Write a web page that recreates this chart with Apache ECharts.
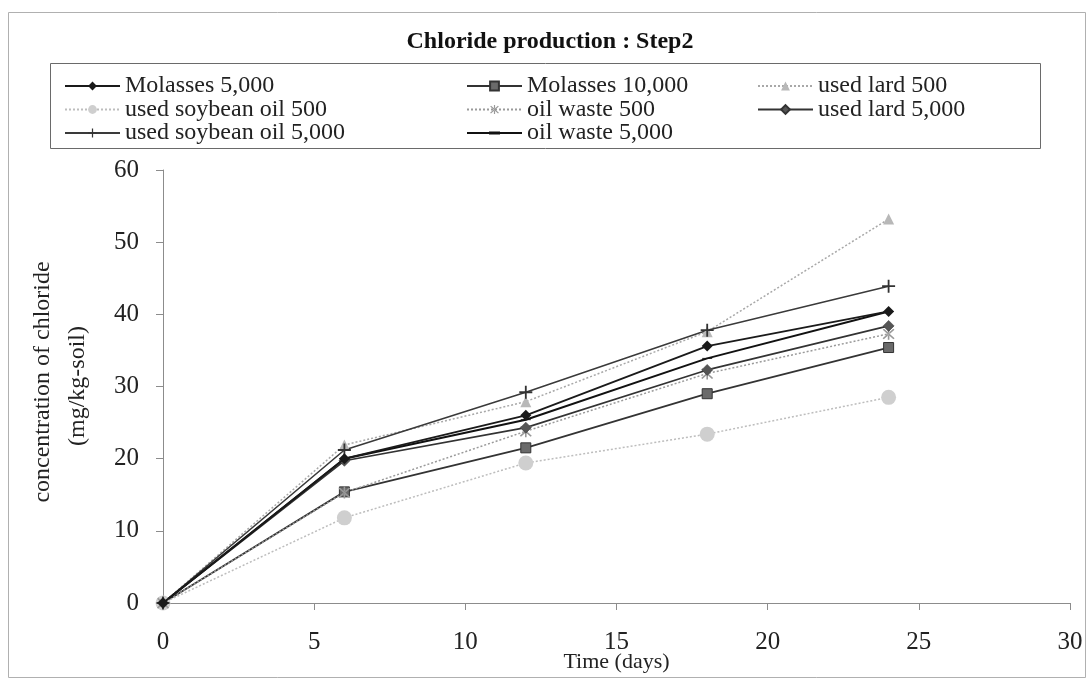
<!DOCTYPE html>
<html>
<head>
<meta charset="utf-8">
<script src="https://cdn.jsdelivr.net/npm/echarts@6/dist/echarts.min.js"></script>
<style>
  html, body { margin: 0; padding: 0; background: #fff; }
  #chart { width: 1092px; height: 681px; }
</style>
</head>
<body>
<div id="chart"></div>
<script>
// Sampling days
const days = [0, 6, 12, 18, 24];

// Chloride concentration (mg/kg-soil) per treatment
const molasses5000      = [0, 20.0, 26.0, 35.6, 40.4];
const molasses10000     = [0, 15.4, 21.5, 29.0, 35.4];
const usedLard500       = [0, 21.9, 27.9, 37.6, 53.2];
const usedSoybean500    = [0, 11.8, 19.4, 23.4, 28.5];
const oilWaste500       = [0, 15.3, 23.8, 31.8, 37.3];
const usedLard5000      = [0, 19.7, 24.3, 32.3, 38.4];
const usedSoybean5000   = [0, 21.2, 29.2, 37.8, 43.9];
const oilWaste5000      = [0, 20.0, 25.4, 33.9, 40.4];

const xTicks = [0, 5, 10, 15, 20, 25, 30];
const yTicks = [0, 10, 20, 30, 40, 50, 60];

const FONT = '"Liberation Serif", "DejaVu Serif", serif';

const PLUS = 'path://M4.3,0h1.4v10h-1.4zM0,4.3h10v1.4h-10z';
const ASTER = 'path://M4.4,0h1.2v10h-1.2zM0.6,1.6l0.9,-0.9l8,8l-0.9,0.9zM9.4,1.6l-0.9,-0.9l-8,8l0.9,0.9z';
const DASH = 'path://M0,0h10v3h-10z';
// legend icon: solid line with a short thick dash in the middle (tiny corner dots fix the box)
const DASH_ICON = 'path://M0,0h0.1v0.1h-0.1zM54.9,10.9h0.1v0.1h-0.1zM0,4.6h55v1.8h-55zM22,3.9h11v3.2h-11z';

function pts(vals) { return days.map((d, i) => [d, vals[i]]); }

function mk(name, vals, o) {
  return {
    name: name,
    type: 'line',
    data: pts(vals),
    symbol: o.symbol,
    symbolSize: o.size,
    symbolKeepAspect: !!o.keep,
    showSymbol: true,
    z: o.z || 2,
    lineStyle: { color: o.line, width: o.width, type: o.type || 'solid' },
    itemStyle: { color: o.fill, borderColor: o.border || o.fill, borderWidth: o.bw || 0 },
    emphasis: { disabled: true },
    animation: false
  };
}

const series = [
  mk('Molasses 5,000', molasses5000, { symbol: 'diamond', size: 11, line: '#1a1a1a', width: 1.8, fill: '#1a1a1a', z: 5 }),
  mk('Molasses 10,000', molasses10000, { symbol: 'rect', size: 10, line: '#333', width: 1.8, fill: '#6a6a6a', border: '#333', bw: 1 }),
  mk('used lard 500', usedLard500, { symbol: 'triangle', size: 11, line: '#a8a8a8', width: 1.5, type: [2, 2], fill: '#b8b8b8' }),
  mk('used soybean oil 500', usedSoybean500, { symbol: 'circle', size: 15, line: '#bdbdbd', width: 1.5, type: [2, 2], fill: '#cfcfcf' }),
  mk('oil waste 500', oilWaste500, { symbol: ASTER, size: 12, line: '#9a9a9a', width: 1.5, type: [2, 2], fill: '#999' }),
  mk('used lard 5,000', usedLard5000, { symbol: 'diamond', size: 11, line: '#333', width: 1.6, fill: '#555', border: '#333', bw: 0.5 }),
  mk('used soybean oil 5,000', usedSoybean5000, { symbol: PLUS, size: 13, line: '#3a3a3a', width: 1.6, fill: '#333' }),
  mk('oil waste 5,000', oilWaste5000, { symbol: DASH, size: [10, 3], keep: true, line: '#111', width: 2, fill: '#111' })
];

function legendCol(left, names) {
  return {
    orient: 'vertical',
    left: left,
    top: 74,
    padding: 0,
    itemGap: -0.5,
    itemWidth: 55,
    itemHeight: 11,
    data: names,
    selectedMode: false,
    textStyle: { fontFamily: FONT, fontSize: 24, color: '#222', lineHeight: 22, padding: [0, 0, 0, 0] }
  };
}

const chart = echarts.init(document.getElementById('chart'), null, { renderer: 'canvas' });

chart.setOption({
  backgroundColor: '#fff',
  animation: false,
  title: {
    text: 'Chloride production : Step2',
    left: 545,
    top: 25,
    textAlign: 'center',
    textStyle: { fontFamily: FONT, fontSize: 24, fontWeight: 'bold', color: '#111' }
  },
  legend: [
    legendCol(64, ['Molasses 5,000', 'used soybean oil 500', 'used soybean oil 5,000']),
    legendCol(466, ['Molasses 10,000', 'oil waste 500', { name: 'oil waste 5,000', icon: DASH_ICON, itemStyle: { color: '#111' } }]),
    legendCol(757, ['used lard 500', 'used lard 5,000'])
  ],
  grid: { left: 163, right: 22, top: 170, bottom: 78, outerBoundsMode: 'none', containLabel: false },
  xAxis: {
    type: 'value',
    min: xTicks[0],
    max: xTicks[xTicks.length - 1],
    interval: xTicks[1] - xTicks[0],
    name: 'Time (days)',
    nameLocation: 'middle',
    nameGap: 48,
    nameMoveOverlap: false,
    nameTextStyle: { fontFamily: FONT, fontSize: 22, color: '#222' },
    axisLine: { lineStyle: { color: '#8c8c8c', width: 1 } },
    axisTick: { show: true, inside: false, length: 7, lineStyle: { color: '#8c8c8c' } },
    axisLabel: { fontFamily: FONT, fontSize: 25, color: '#222', margin: 27 },
    splitLine: { show: false }
  },
  yAxis: {
    type: 'value',
    min: yTicks[0],
    max: yTicks[yTicks.length - 1],
    interval: yTicks[1] - yTicks[0],
    axisLine: { show: true, lineStyle: { color: '#8c8c8c', width: 1 } },
    axisTick: { show: true, inside: false, length: 7, lineStyle: { color: '#8c8c8c' } },
    axisLabel: { fontFamily: FONT, fontSize: 25, color: '#222', margin: 24 },
    splitLine: { show: false }
  },
  graphic: [
    {
      type: 'rect', silent: true, z: -1,
      shape: { x: 8.5, y: 12.5, width: 1077, height: 665 },
      style: { fill: 'none', stroke: '#b0b0b0', lineWidth: 1 }
    },
    {
      type: 'rect', silent: true, z: -1,
      shape: { x: 50.5, y: 63.5, width: 990, height: 85 },
      style: { fill: 'none', stroke: '#6a6a6a', lineWidth: 1 }
    },
    {
      type: 'text', silent: true,
      x: 43, y: 382, rotation: Math.PI / 2,
      style: { text: 'concentration of chloride', fontFamily: FONT, fontSize: 24, fill: '#222', align: 'center', verticalAlign: 'middle' }
    },
    {
      type: 'text', silent: true,
      x: 78, y: 386, rotation: Math.PI / 2,
      style: { text: '(mg/kg-soil)', fontFamily: FONT, fontSize: 24, fill: '#222', align: 'center', verticalAlign: 'middle' }
    }
  ],
  series: series
});
</script>
</body>
</html>
